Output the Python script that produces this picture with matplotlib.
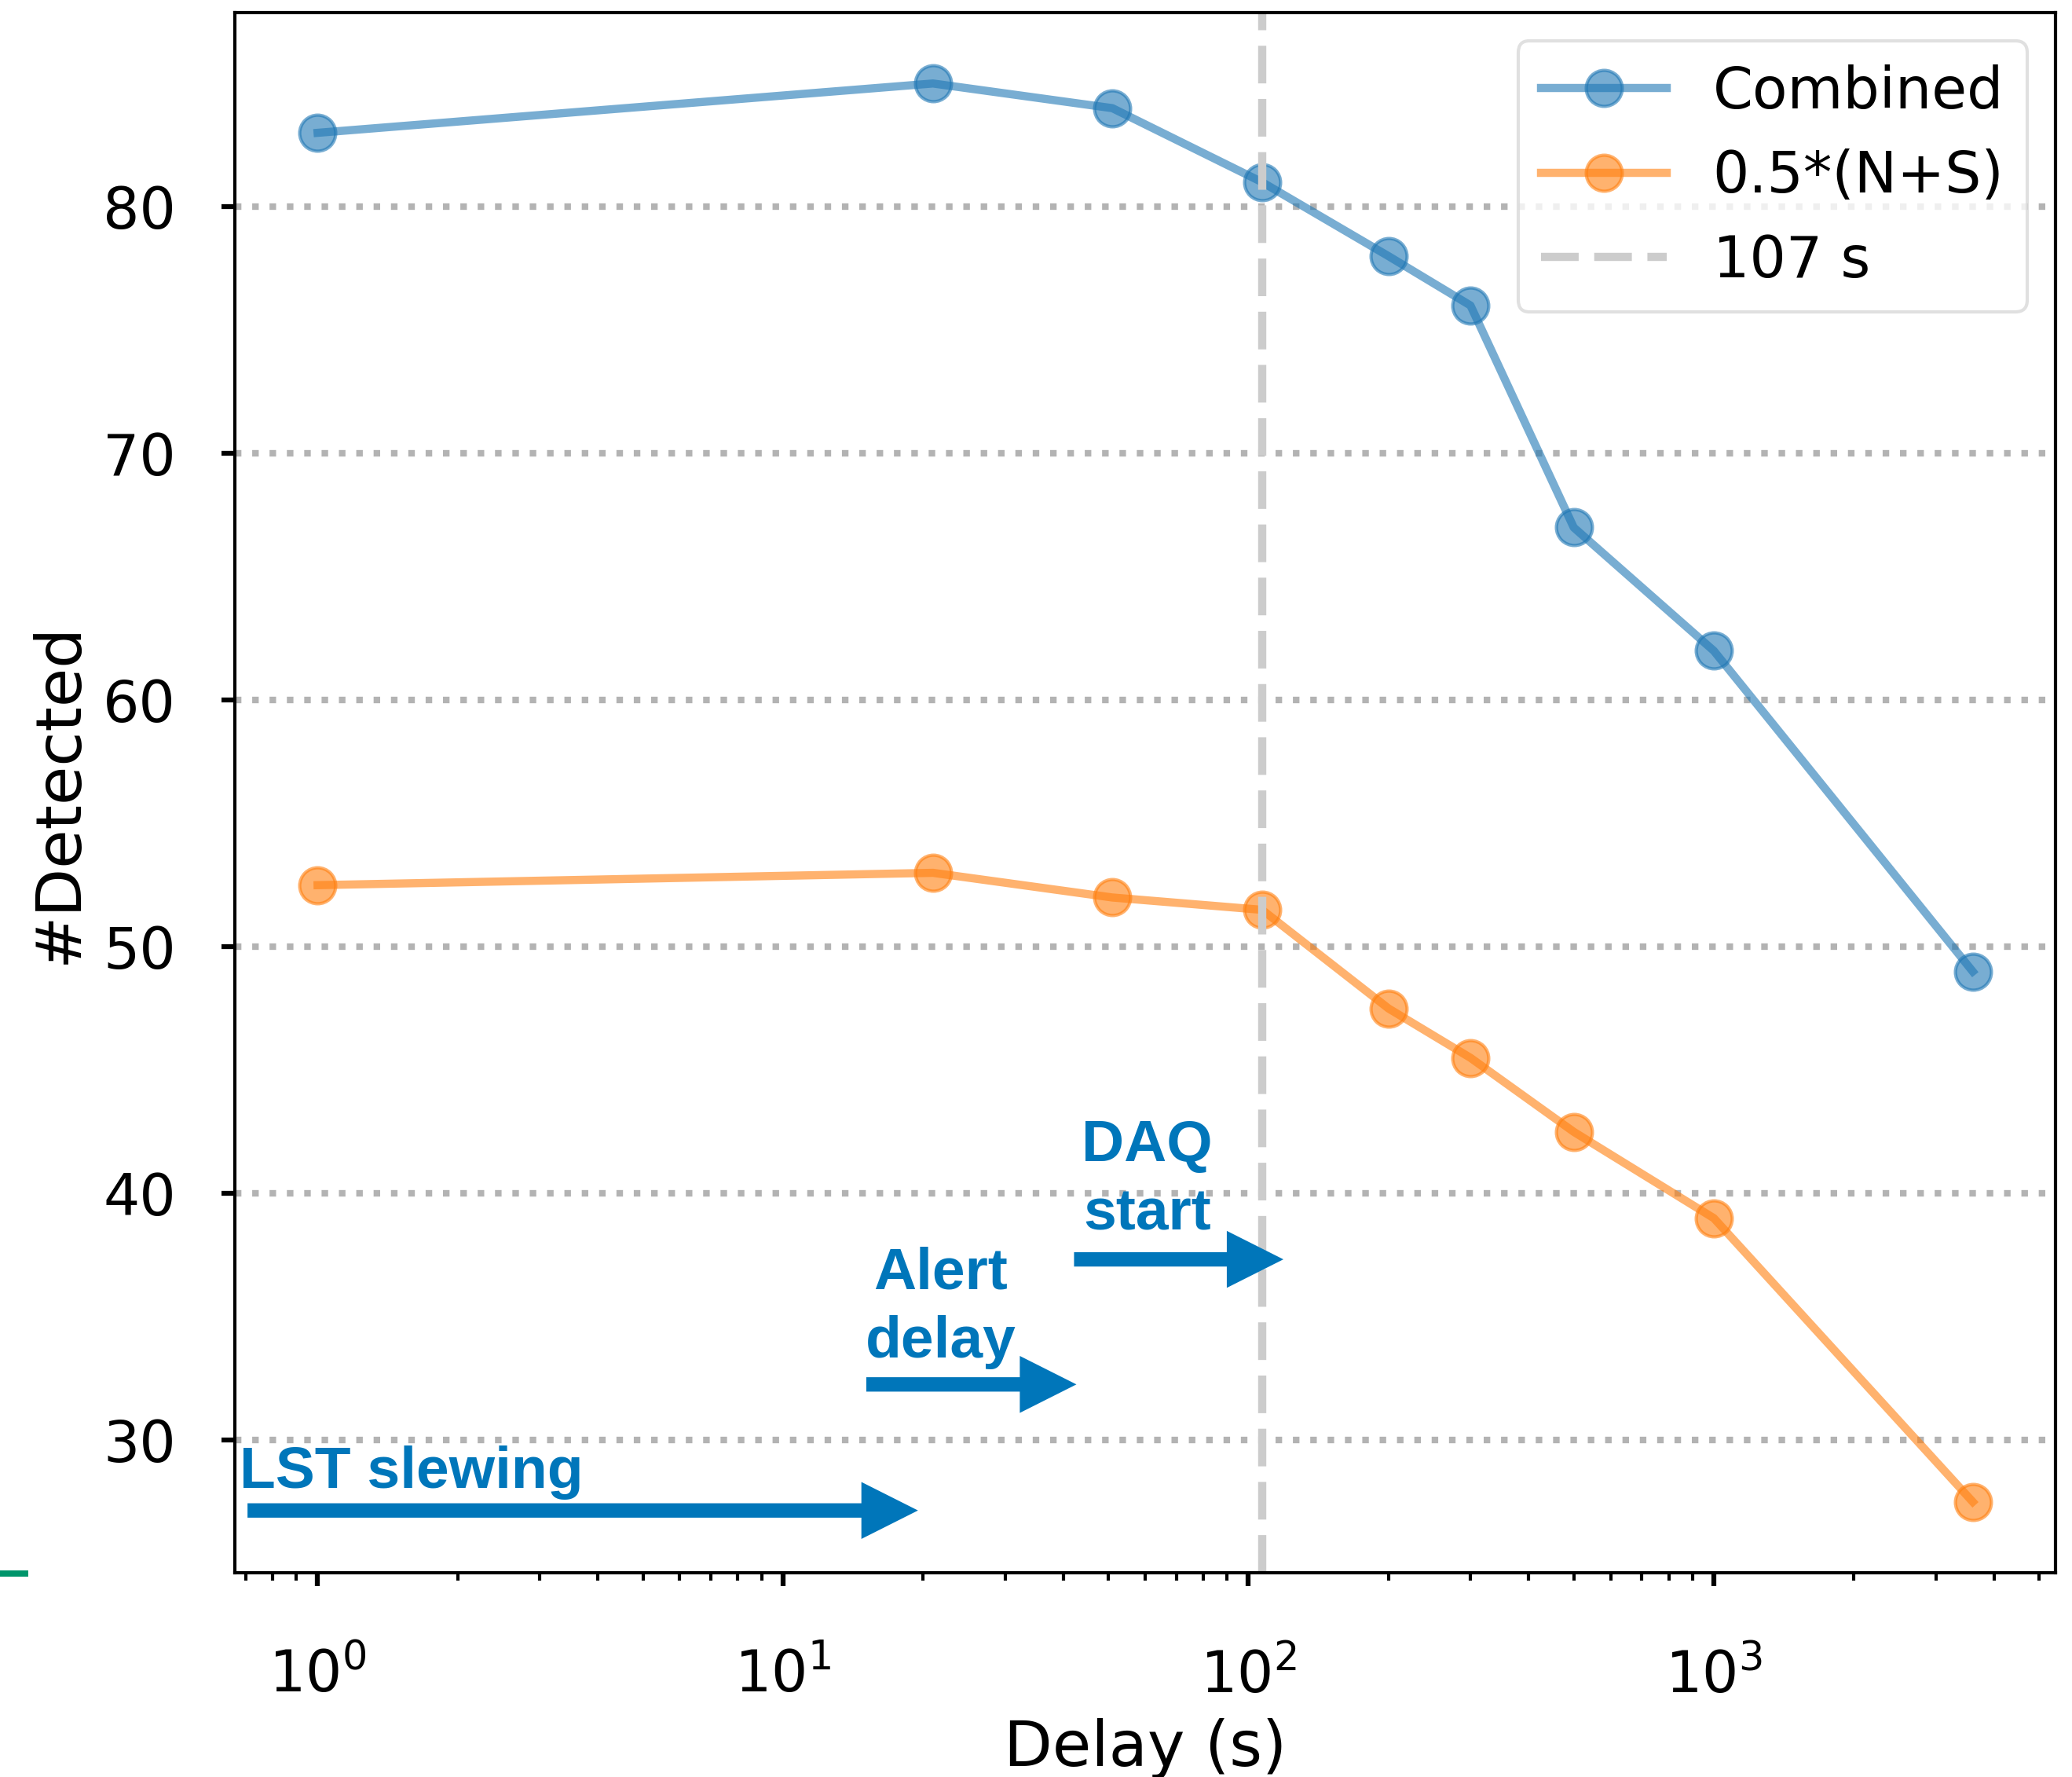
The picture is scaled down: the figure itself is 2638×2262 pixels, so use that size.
import matplotlib
matplotlib.use("Agg")
import matplotlib.pyplot as plt
from matplotlib.lines import Line2D
from matplotlib.patches import ArrowStyle

# Number of detected events versus follow-up delay
delay_s = [1, 21, 51, 107, 200, 300, 500, 1000, 3600]
combined = [83, 85, 84, 81, 78, 76, 67, 62, 49]
half_n_plus_s = [52.5, 53, 52, 51.5, 47.5, 45.5, 42.5, 39, 27.5]
series_labels = ["Combined", "0.5*(N+S)"]
daq_start_s = 107
daq_label = "107 s"
yticks = [30, 40, 50, 60, 70, 80]
x_label = "Delay (s)"
y_label = "#Detected"

# Timeline annotations: text, text anchor (x, y), arrow tail x, arrow tip x, arrow y
note_texts = ["LST slewing", "Alert\ndelay", "DAQ\nstart"]
note_text_x = [0.679, 21.8, 60.6]
note_text_y = [28.05, 32.87, 38.04]
note_tail_x = [0.707, 15.1, 42.2]
note_tip_x = [19.5, 42.7, 118.9]
note_arrow_y = [27.15, 32.26, 37.33]

W, H, DPI = 2638, 2262, 300
FS = 17.5
LABEL_FS = 19.3
NOTE_FS = 18.0
note_color = "#0076BA"

plt.rcParams["font.family"] = ["DejaVu Sans"]
plt.rcParams["mathtext.fontset"] = "dejavusans"

fig = plt.figure(figsize=(W / DPI, H / DPI), dpi=DPI)
fig.patch.set_facecolor("white")
ax = fig.add_axes([299 / W, 1 - 2002 / H, (2617 - 299) / W, (2002 - 16) / H])

ax.plot(delay_s, combined, "-o", color="tab:blue", alpha=0.6, lw=2.5, ms=11,
        label=series_labels[0])
ax.plot(delay_s, half_n_plus_s, "-o", color="tab:orange", alpha=0.6, lw=2.5, ms=11,
        label=series_labels[1])
ax.axvline(daq_start_s, color="0.8", lw=2.5, ls=(0, (4.6, 1.9)), label=daq_label)

ax.set_xscale("log")
ax.set_yticks(yticks)
ax.yaxis.grid(True, ls=":", lw=2.0, color="0.7")
ax.xaxis.grid(False)
ax.set_axisbelow(True)

for s in ax.spines.values():
    s.set_color("black")
    s.set_linewidth(1.0)

ax.tick_params(axis="both", which="major", direction="out", length=4, width=1.5,
               pad=14, labelsize=FS, colors="black")
ax.tick_params(axis="x", which="major", pad=19)
ax.tick_params(axis="x", which="minor", direction="out", length=2.4, width=1.0)
ax.tick_params(top=False, right=False)

ax.set_xlabel(x_label, fontsize=LABEL_FS, labelpad=4)
ax.set_ylabel(y_label, fontsize=LABEL_FS, labelpad=4)

ax.legend(loc="upper right", fontsize=FS, handlelength=2.2, labelspacing=0.5,
          framealpha=0.8, edgecolor="0.85", fancybox=True)

arrow = ArrowStyle.Simple(head_length=17.3, head_width=17.4, tail_width=4.4)
for i, txt in enumerate(note_texts):
    multi = "\n" in txt
    ax.text(note_text_x[i], note_text_y[i], txt, color=note_color,
            fontsize=NOTE_FS, fontweight="bold", family="Liberation Sans",
            ha="center" if multi else "left", va="bottom" if multi else "baseline",
            multialignment="center", linespacing=1.35)
    ax.annotate("", xy=(note_tip_x[i], note_arrow_y[i]),
                xytext=(note_tail_x[i], note_arrow_y[i]),
                arrowprops=dict(arrowstyle=arrow, mutation_scale=1,
                                color=note_color, lw=0, shrinkA=0, shrinkB=0))

# short green rule at the left edge
fig.add_artist(Line2D([0, 32 / W], [1 - 2003 / H] * 2, transform=fig.transFigure,
                      color="#00956B", lw=1.9))

fig.savefig("out.png", dpi=DPI, facecolor="white")
